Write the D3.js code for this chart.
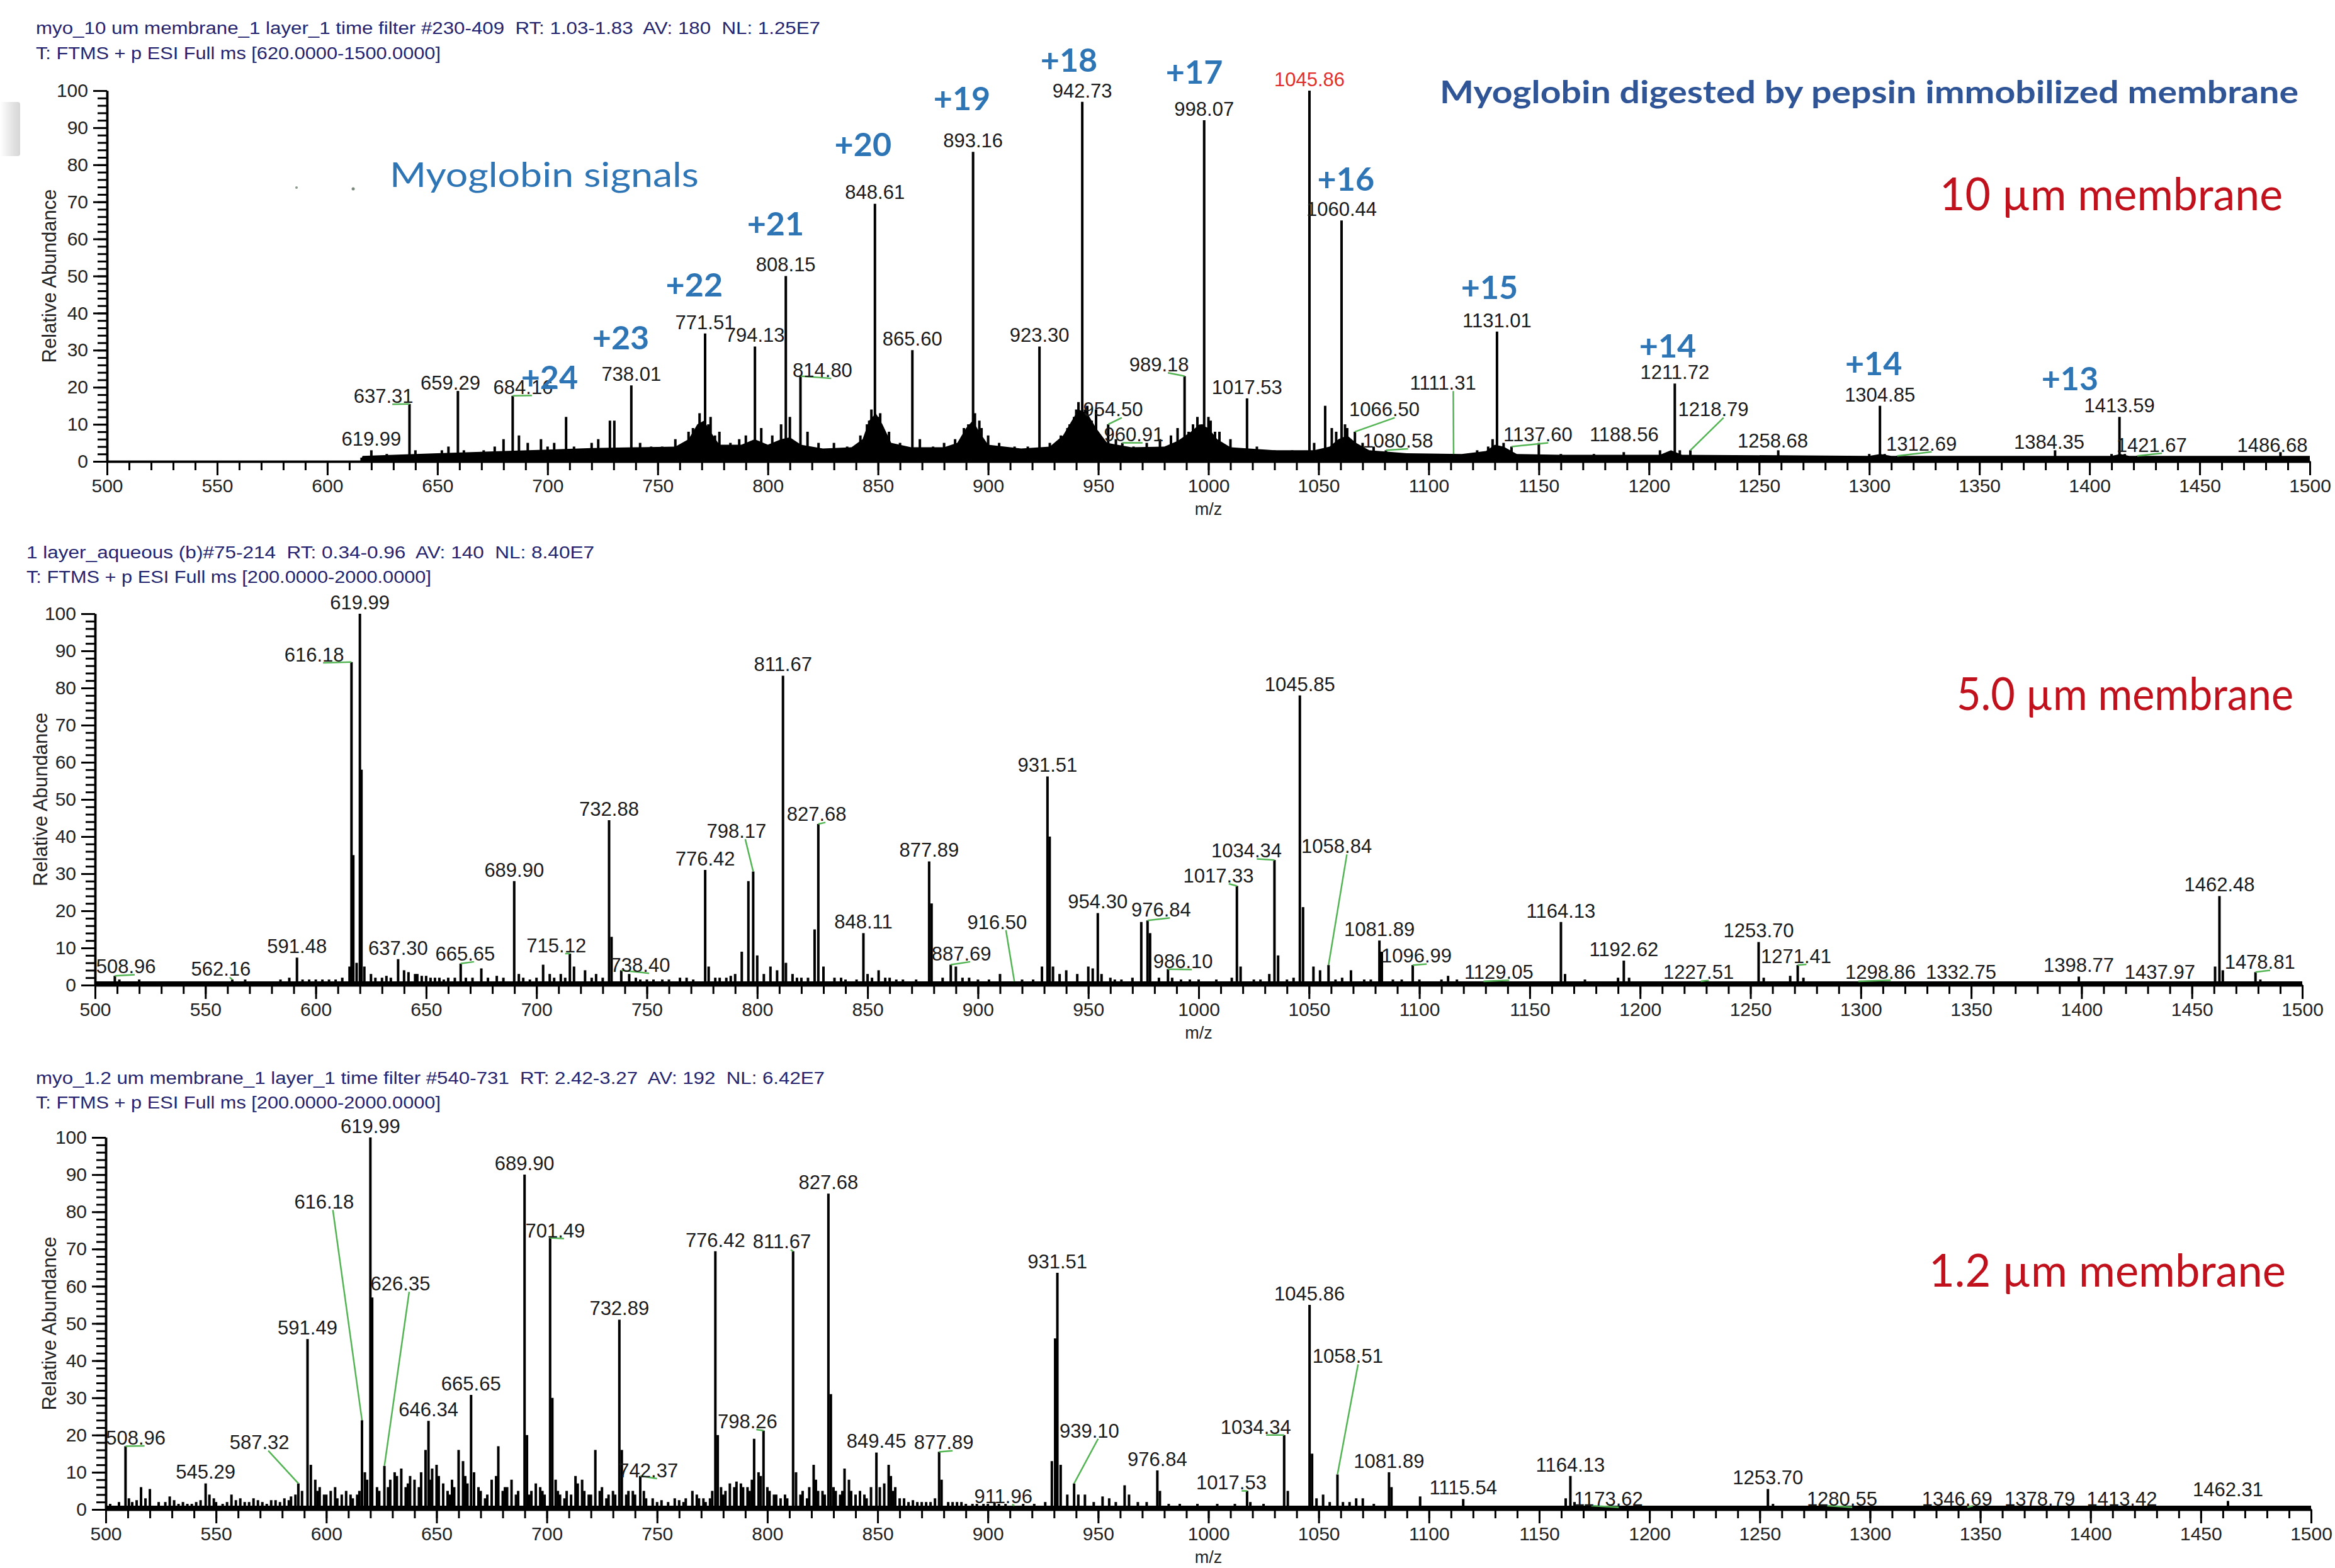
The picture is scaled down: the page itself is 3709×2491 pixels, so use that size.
<!DOCTYPE html>
<html><head><meta charset="utf-8">
<script src="https://cdn.jsdelivr.net/npm/d3@7"></script>
<style>body{margin:0;background:#fff}svg{display:block}</style>
</head><body>
<svg id="chart" width="3709" height="2491"></svg>
<script>
// ---------------- DATA ----------------
// Panel 1: 10 µm membrane  [m/z, relative abundance]
const peaks10 = [
[619.99,3],[622,1.5],[627,2],[637.31,15.5],[640,3],[646,2],[652,3],[655,4],[659.29,19],[662,3],[671,3],[676,4],[680,6],[684.16,17.7],[687,7],[691,5],[697,6],[700,4],[703,5],[708.4,12],[712,4],[720,5],[723,6],[728.3,11],[730.3,11],[738.01,20.5],[742,5],[747,4],[752,4],[758,6],[764,8],[766,9],[769,13],[771.51,34.5],[773,10],[774,12],[776,7],[778,8],[783,5],[787,6],[790,7],[794.13,31],[797,9],[802,7],[806,10],[808.15,50],[810,12],[814.80,23],[818,8],[823,5],[830,5],[836,4],[842,7],[845,10],[846,11],[847,14],[848.61,69.5],[850,12],[851,13],[855,8],[860,5],[865.60,30],[869,6],[875,4],[880,5],[885,6],[889,9],[891,10],[893.16,83.5],[894,13],[896,11],[897,9],[900,7],[905,5],[912,4],[918,4],[923.30,31],[928,5],[933,7],[936,9],[937,10],[939,12],[940,14],[941,16],[942.73,97],[944,14],[945,15],[947,11],[949,14],[954.50,10],[958,6],[960.91,5],[966,4],[972,5],[978,6],[983,7],[986,9],[989.18,23],[991,8],[993,10],[995,12],[997,10],[998.07,92],[1000,12],[1001,11],[1003,8],[1005,8],[1010,6],[1017.53,17],[1022,4],[1030,3],[1038,3],[1045.86,100],[1048,5],[1053,15],[1056,9],[1058,8],[1060.44,65],[1062,10],[1063,9],[1066.50,8],[1070,5],[1075,4],[1080.58,3],[1090,2],[1100,2],[1111.31,2],[1122,3],[1127,4],[1129,6],[1131.01,35],[1134,5],[1137.60,4],[1150,5],[1160,2],[1175,2],[1188.56,2.5],[1205,3],[1211.72,21],[1214,3],[1218.79,3],[1240,1.5],[1258.68,3],[1280,1],[1300,2],[1304.85,15],[1307,2],[1312.69,1.5],[1350,1],[1384.35,3],[1410,2],[1413.59,12],[1416,2],[1421.67,1.5],[1450,1],[1486.68,2.5]
];
// broad unresolved envelope under the 10 µm spectrum
const envelope10 = [
[615,0],[616,1.5],[630,1.8],[650,2.2],[680,2.8],[700,3.2],[720,3.6],[740,3.8],[758,4],[764,6],[768,10],[771,11],[774,8],[778,4.5],[788,4.5],[794,6],[800,4.5],[806,6],[810,6.5],[815,4.5],[825,3.5],[838,3.8],[843,6],[846,11],[849,13],[852,10],[856,5],[865,3.8],[880,3.8],[886,5],[890,9],[893,11],[896,8],[900,4.5],[915,3.5],[928,4],[934,7],[938,11],[941,14],[945,13],[949,9],[954,5],[965,3.8],[980,4],[986,5.5],[992,8],[996,10],[1000,9],[1004,6],[1010,3.8],[1030,3],[1048,3],[1055,4],[1059,6],[1063,7],[1067,5],[1073,3],[1090,2.2],[1115,2],[1126,2.8],[1130,4.5],[1134,4],[1140,2],[1160,1.8],[1205,1.8],[1210,3],[1215,1.8],[1300,1.5],[1305,2],[1310,1.5],[1410,1.5],[1414,2],[1418,1.5],[1500,1.5],[1500,0]
];
// labels: [peak m/z, label m/z, label abundance, leader?]
const labels10 = [
[619.99],[637.31,625.5,17.6],[659.29,655.9,21.2,false],[684.16,688.9,20.0],[738.01],[771.51],[794.13],[808.15],
[814.80,824.8,24.6],[848.61],[865.60],[893.16],[923.30],[942.73],[954.50,956.7,14.0],[960.91,966.1,7.2],
[989.18,977.6,26.1],[998.07],[1017.53],[1045.86],[1060.44],[1066.50,1079.9,14.0],[1080.58,1086,5.6],
[1111.31,1106.5,21.2],[1131.01],[1137.60,1149.6,7.2],[1188.56,1188.7,7.2,false],[1211.72],[1218.79,1229.2,14],
[1258.68,1256.2,5.6,false],[1304.85],[1312.69,1323.7,4.8],[1384.35,1381.7,5.2,false],[1413.59],
[1421.67,1428.2,4.4],[1486.68,1483,4.4,false]
];
const chargeStates = ["+24","+23","+22","+21","+20","+19","+18","+17","+16","+15","+14","+14","+13"];
const chargeMz =     [700.9,733.2,766.6,803.5,843.2,888.1,936.7,993.6,1062.4,1127.6,1208.5,1302.0,1391.1];
const chargeAb =     [22.7,33.4,47.7,64.2,85.6,98.0,108.3,105.1,76.2,46.9,31.2,26.5,22.4];

// Panel 2: 5.0 µm membrane
const peaks50 = [
[503,1],[508.96,2.5],[511,1.5],[515,1],[520,1.5],[525,1],[533,1],[538,1],[545,1],[552,1],[556,1],[562.16,1.5],[568,1.5],[575,1],[580,1],[584,1.5],[588,2],[591.48,7.4],[594,1.5],[597,1.5],[600,1.5],[603,1.5],[606,1.5],[609,1.5],[612,2],[615.3,5],[616.18,87],[617,35],[618.5,6],[619.99,100],[620.7,58],[622,5],[625,3],[627,2],[630,2],[632,2.5],[634,2],[637.30,7],[640,4],[642,3.5],[645,3],[646,3],[648,2.5],[650,2.5],[652,2],[654,2],[656,2],[658,1.5],[660,2],[663,2],[665.65,5.8],[668,2],[671,2],[675,4.5],[678,2],[682,2.5],[685,2],[689.90,28],[692,3],[694,2],[697,1.5],[700,2],[703,5.5],[706,3],[708,2],[711,3],[713,2],[715.12,8.5],[717,5],[722,4],[725,2],[727,3],[730,2],[732.88,44.4],[734,13],[738.40,4],[742,3],[745,2],[747,1.5],[750,1.5],[753,1.5],[757,1.5],[760,1.5],[765,2],[768,2],[771,1.5],[776.42,31],[778,5],[781,2],[783,2],[786,2],[788,2.5],[790,3],[793,9],[796,28],[798.17,30.6],[800,8],[803,3],[806,5],[809,4],[811.67,83.3],[813,6],[816,3],[818,2],[820,2],[823,2],[826,15],[827.68,43.4],[830,5],[835,2],[838,2],[840,1.5],[845,1.5],[848.11,14],[850,3],[852,2],[855,4],[858,2],[860,2],[863,1.5],[866,1.5],[872,1.5],[877.89,33.3],[879,22],[884,2],[887.69,5.5],[890,5],[893,2],[896,2],[900,1.5],[905,1.5],[910,3],[916.50,1],[920,1.5],[925,1.5],[929,5],[931.51,56.2],[932.5,40],[934,5],[937,3],[940,4],[945,3],[950,5],[952,4.5],[954.30,19.4],[956,3],[960,2],[962,1.5],[965,1.5],[970,2],[974,17],[976.84,17.4],[978,14],[982,2],[986.10,4.3],[988,2],[992,1.5],[996,1.5],[1000,1.5],[1004,1],[1008,1.5],[1012,1],[1015,2],[1017.33,26.7],[1019,5],[1025,1.5],[1028,1.5],[1032,3],[1034.34,33.7],[1036,8],[1040,1.5],[1043,2],[1045.85,78],[1047.3,21],[1052,5],[1055,4],[1058.84,5.4],[1062,1.5],[1065,2],[1069,4],[1075,1.5],[1078,1.5],[1081.89,12],[1083,9],[1088,1.5],[1092,1.5],[1096.99,5.4],[1100,1.5],[1106,1],[1110,1.5],[1113,2.5],[1117,1.5],[1122,1],[1129.05,1],[1140,1],[1150,1],[1164.13,17],[1166,3],[1175,1.5],[1190,2],[1192.62,6.6],[1195,2],[1210,1],[1227.51,1],[1240,1],[1253.70,11.6],[1256,2],[1268,2.5],[1271.41,5.4],[1274,2],[1285,1],[1298.86,1],[1315,1],[1332.75,1],[1360,1],[1398.77,2.3],[1420,1],[1437.97,1],[1455,1],[1460.5,5],[1462.48,24],[1464,4],[1470,1],[1478.81,3.5],[1481,1.5],[1490,1]
];
const labels50 = [
[508.96,514,5],[562.16,557,4.3],[591.48],[616.18,599.3,89],[619.99],[637.30],[665.65,667.7,8.5],[689.90],
[715.12,709,10.7],[732.88],[738.40,747,5.4],[776.42],[798.17,790.6,41.5],[811.67],[827.68,826.9,46],[848.11],
[877.89],[887.69,892.5,8.5],[916.50,908.7,17],[931.51],[954.30],[976.84,983,20.3],[986.10,992.9,6.4],
[1017.33,1009,29.5],[1034.34,1021.7,36.2],[1045.85],[1058.84,1062.5,37.4],[1081.89],[1096.99,1098.7,7.9],
[1129.05,1136,3.5],[1164.13],[1192.62],[1227.51,1226.5,3.5],[1253.70],[1271.41,1270.7,7.8],[1298.86,1308.9,3.5],
[1332.75,1345.4,3.5,false],[1398.77],[1437.97,1435.5,3.5,false],[1462.48],[1478.81,1480.8,6.2]
];

// Panel 3: 1.2 µm membrane
const peaks12 = [
[502,1.5],[505,1],[506,2],[508.96,17],[510.5,3],[512,2],[514,2.5],[516,6],[518,3],[520,5.5],[524,2],[527,2],[529,3.5],[531,2.5],[533,1.5],[535,2],[537,1.5],[539,1.5],[541,2],[543,2.5],[545.29,7],[547,4],[549,3],[550,2],[553,1.5],[555,2],[557,4],[559,2.5],[561,3],[563,2],[565,2],[567,3],[569,2.5],[571,2],[573,1.5],[575,2.5],[577,2.5],[579,2],[581,3],[583,2.5],[584,3.5],[586,4],[587.32,7],[589,5],[591.49,45.8],[593,12],[595,8],[596,5],[597,6],[599,4],[600,4],[602,5],[604,6],[605,3],[607,4],[609,5],[611,4],[612,3],[614,4],[615,5],[616.18,24],[617.5,10],[618.5,8],[619.99,100],[620.8,57],[623,6],[624,5],[626.35,11.7],[628,6],[629,8],[631,10],[632,9],[634,11],[636,6],[637,7],[638,9],[640,8],[642,6],[643,10],[645,16],[646.34,23.8],[647,8],[648,11],[650,12],[651,9],[653,7],[655,5],[656,4],[657,8],[658,6],[660,16],[662,13],[663,9],[664,7],[665.65,30.8],[667,10],[669,6],[670,5],[672,3],[673,4],[675,8],[677,9],[678,17],[680,5],[681,6],[682,6],[684,8],[686,4],[687,5],[689.90,90],[691,20],[692,4],[693,5],[695,7],[697,6],[698,5],[699,4],[701.49,73],[702.5,30],[704,8],[705,5],[706,4],[708,3],[709,5],[711,4],[713,9],[714,7],[716,8],[717,5],[719,4],[720,4],[722,16],[724,5],[725,6],[727,3],[728,4],[730,5],[731,4],[732.89,51],[734,16],[736,4],[737,5],[739,5],[740,4],[742.37,9],[744,5],[745,3],[748,3],[750,2],[752,2.5],[755,2],[758,3],[760,2.5],[762,2],[763,3],[766,5],[768,4],[769,3],[771,3],[772,2],[774,3],[775,5],[776.42,69.4],[777.5,20],[779,6],[780,4],[781,5],[783,7],[785,6],[786,7.5],[788,7],[789,6],[791,6],[792,5],[793,8],[794,19],[796,10],[797,9],[798.26,21.2],[800,6],[801,5],[803,4],[804,4],[806,3],[808,4],[809,3],[811.67,69.4],[813,10],[815,4],[816,5],[818,3],[819,6],[821,12],[822,8],[823,5],[825,5],[826,4],[827.68,84.9],[828.8,31],[830,6],[831,5],[833,4],[834,5],[835,11],[837,8],[838,5],[840,4],[842,5],[844,4],[845,3],[847,6],[849.45,15.3],[851,6],[853,7],[855,12],[856,9],[857,5],[858,6],[860,3],[862,3],[864,2],[866,2.5],[868,2],[870,2],[872,2],[874,2],[876,3],[877.89,15.5],[879,8],[882,2],[884,2],[886,2],[888,2],[890,1.5],[893,1.5],[895,1.5],[898,1.5],[900,1.5],[903,2],[905,1.5],[908,1.5],[911.96,1],[916,1.5],[921,1.5],[926,2],[929,13],[930.5,46],[931.51,63.6],[933,12],[936,4],[939.10,7],[941,4],[944,4],[948,2],[952,3.5],[955,3],[958,2],[962,6.5],[964,4],[968,2],[972,2],[976.84,10.5],[978,5],[982,1.5],[987,1.5],[995,1.5],[1004,1.5],[1012,1.5],[1017.53,5],[1019,2],[1025,1.5],[1030,1],[1034.34,20],[1036,5],[1040,1],[1045.86,55],[1047,15],[1049,3],[1052,4],[1055,2],[1058.51,9.4],[1061,2],[1064,2],[1067,3],[1070,3],[1075,1.5],[1081.89,10],[1083,6],[1087,1],[1096,3.5],[1100,1],[1108,1],[1115.54,2.8],[1125,1],[1140,1],[1150,1],[1162,3],[1164.13,9],[1166,2],[1173.62,1],[1185,1],[1200,1],[1220,1],[1240,1],[1253.70,5.5],[1256,1.5],[1262,1],[1280.55,1],[1300,1],[1320,1],[1346.69,1],[1378.79,1],[1400,1],[1413.42,1],[1440,1],[1462.31,2.3],[1480,1]
];
const labels12 = [
[508.96,513.6,19.3],[545.29],[587.32,569.7,18],[591.49],[616.18,599,82.7],[619.99],[626.35,633.6,60.7],[646.34],
[665.65],[689.90],[701.49,703.8,75],[732.89],[742.37,746,10.5],[776.42],[798.26,791,23.7],[811.67,806.6,72],
[827.68],[849.45],[877.89,880,18],[911.96,907,3.6],[931.51],[939.10,946,21.2],[976.84],[1017.53,1010.4,7.2],
[1034.34,1021.5,22.2],[1045.86],[1058.51,1063.2,41.2],[1081.89],[1115.54],[1164.13],[1173.62,1181.4,2.8],
[1253.70],[1280.55,1287.3,2.8],[1346.69,1339.5,2.8],[1378.79,1377,2.8,false],[1413.42,1414.2,2.8,false],[1462.31]
];

const xMajorTicks = d3.range(500, 1501, 50);
const xMinorTicks = d3.range(500, 1501, 10);
const yMajorTicks = d3.range(0, 101, 10);
const yMinorTicks = d3.range(0, 101, 2);

const headers = [
 ["myo_10 um membrane_1 layer_1 time filter #230-409  RT: 1.03-1.83  AV: 180  NL: 1.25E7", "T: FTMS + p ESI Full ms [620.0000-1500.0000]"],
 ["1 layer_aqueous (b)#75-214  RT: 0.34-0.96  AV: 140  NL: 8.40E7", "T: FTMS + p ESI Full ms [200.0000-2000.0000]"],
 ["myo_1.2 um membrane_1 layer_1 time filter #540-731  RT: 2.42-3.27  AV: 192  NL: 6.42E7", "T: FTMS + p ESI Full ms [200.0000-2000.0000]"]
];
const membraneNames = ["10 µm membrane", "5.0 µm membrane", "1.2 µm membrane"];

// ---------------- LAYOUT ----------------
const panels = [
 {peaks:peaks10, labels:labels10, env:envelope10, start:615, left:170, right:3669, top:144, bottom:733,
  hx:57, hy:[45,85], hw:[1246,643], ylx:78, name:{x:3081, y:334, w:545}},
 {peaks:peaks50, labels:labels50, env:null, start:500, left:151, right:3657, top:975, bottom:1565,
  hx:42, hy:[878,917], hw:[902,643], ylx:64, name:{x:3108, y:1128, w:535}},
 {peaks:peaks12, labels:labels12, env:null, start:500, left:168, right:3671, top:1807, bottom:2398,
  hx:57, hy:[1713,1752], hw:[1253,643], ylx:78, name:{x:3064, y:2044, w:567}}
];

const svg = d3.select('#chart');
svg.append('rect').attr('width',3709).attr('height',2491).attr('fill','#fff');

// faint left-edge shadow artifact
const defs = svg.append('defs');
const lg = defs.append('linearGradient').attr('id','shade').attr('x1','0').attr('x2','1');
lg.append('stop').attr('offset','0').attr('stop-color','#ffffff');
lg.append('stop').attr('offset','0.6').attr('stop-color','#e4e4e4');
lg.append('stop').attr('offset','1').attr('stop-color','#d6d6d6');
svg.append('rect').attr('x',0).attr('y',162).attr('width',32).attr('height',86).attr('rx',4).attr('fill','url(#shade)');

const LABEL_FS = 31;
const GREEN = '#52b452';
const NAVY = '#25256f';
const SANS = 'Liberation Sans, Arial, sans-serif';

panels.forEach((p, i) => {
  const x = d3.scaleLinear().domain([500,1500]).range([p.left, p.right]);
  const y = d3.scaleLinear().domain([0,100]).range([p.bottom, p.top]);
  const g = svg.append('g');

  // header
  headers[i].forEach((t, k) => {
    g.append('text').attr('x', p.hx).attr('y', p.hy[k]).attr('dy','0.35em')
      .attr('font-family',SANS).attr('font-size',27)
      .attr('fill', NAVY).style('white-space','pre')
      .attr('textLength', p.hw[k]).attr('lengthAdjust','spacingAndGlyphs').text(t);
  });

  // envelope
  if (p.env) {
    g.append('path').datum(p.env)
      .attr('d', d3.area().x(d=>x(d[0])).y0(y(0)).y1(d=>y(d[1])))
      .attr('fill','#000');
  }
  // baseline band
  g.append('rect').attr('x', x(p.start)).attr('y', y(0)-6).attr('width', x(1500)-x(p.start)).attr('height',6).attr('fill','#000');

  // peaks (stick spectrum)
  g.append('g').selectAll('line').data(p.peaks).join('line')
    .attr('x1', d=>x(d[0])).attr('x2', d=>x(d[0]))
    .attr('y1', y(0)).attr('y2', d=>y(d[1]))
    .attr('stroke','#000').attr('stroke-width',4);

  // axes
  const styleAxis = sel => {
    sel.selectAll('.domain').attr('stroke','#000').attr('stroke-width',3.5);
    sel.selectAll('.tick line').attr('stroke','#000').attr('stroke-width',3);
    sel.selectAll('.tick text').attr('font-family',SANS).attr('font-size',30).attr('fill','#222');
  };
  g.append('g').attr('transform',`translate(0,${p.bottom})`)
    .call(d3.axisBottom(x).tickValues(xMinorTicks).tickSize(14).tickSizeOuter(0).tickFormat(''))
    .call(styleAxis);
  g.append('g').attr('transform',`translate(0,${p.bottom})`)
    .call(d3.axisBottom(x).tickValues(xMajorTicks).tickSize(22).tickSizeOuter(0).tickPadding(6).tickFormat(d3.format('d')))
    .call(styleAxis);
  g.append('g').attr('transform',`translate(${p.left},0)`)
    .call(d3.axisLeft(y).tickValues(yMinorTicks).tickSize(15).tickSizeOuter(0).tickFormat(''))
    .call(styleAxis);
  g.append('g').attr('transform',`translate(${p.left},0)`)
    .call(d3.axisLeft(y).tickValues(yMajorTicks).tickSize(22).tickSizeOuter(0).tickPadding(8).tickFormat(d3.format('d')))
    .call(styleAxis);

  // axis titles
  g.append('text').attr('transform',`translate(${p.ylx},${(p.top+p.bottom)/2}) rotate(-90)`)
    .attr('text-anchor','middle').attr('dy','0.35em')
    .attr('font-family',SANS).attr('font-size',31).attr('fill','#222')
    .text('Relative Abundance');
  g.append('text').attr('x', x(1000)).attr('y', p.bottom+76).attr('dy','0.35em').attr('text-anchor','middle')
    .attr('font-family',SANS).attr('font-size',27).attr('fill','#222')
    .text('m/z');

  // peak labels
  const lg2 = g.append('g');
  p.labels.forEach(l => {
    const mz = l[0];
    const pk = p.peaks.find(d => Math.abs(d[0]-mz) < 0.005);
    const h = pk ? pk[1] : 1;
    const px = x(mz), py = y(h);
    const txt = mz.toFixed(2);
    let tx, ty;
    const displaced = l.length > 1;
    if (displaced) { tx = x(l[1]); ty = y(l[2]); } else { tx = px; ty = py - 18; }
    if (displaced && l[3] !== false) {
      const w = txt.length * 0.5 * LABEL_FS;
      const sx = tx + w*0.15;
      const sy = ty + LABEL_FS*0.42;
      lg2.append('line').attr('x1',sx).attr('y1',sy).attr('x2',px).attr('y2',py)
        .attr('stroke',GREEN).attr('stroke-width',2.5);
    }
    const red = (i === 0 && mz === 1045.86);
    lg2.append('text').attr('x',tx).attr('y',ty).attr('dy','0.35em').attr('text-anchor','middle')
      .attr('font-family',SANS).attr('font-size',LABEL_FS)
      .attr('fill', red ? '#e0302b' : '#1a1a1a').text(txt);
  });

  // membrane name
  g.append('text').attr('x', p.name.x).attr('y', p.name.y)
    .attr('font-family','Lato, "Open Sans", sans-serif').attr('font-size',72).attr('fill','#c0111c')
    .attr('textLength', p.name.w).attr('lengthAdjust','spacingAndGlyphs').text(membraneNames[i]);

  if (i === 0) {
    // charge state annotations
    chargeStates.forEach((c, k) => {
      g.append('text').attr('x', x(chargeMz[k])).attr('y', y(chargeAb[k])).attr('dy','0.36em')
        .attr('text-anchor','middle').attr('font-family','Lato, "Open Sans", sans-serif')
        .attr('font-weight',700).attr('font-size',52).attr('fill','#2e75b6').text(c);
    });
    g.append('text').attr('x', 619).attr('y', 297)
      .attr('font-family','Lato, "Open Sans", sans-serif').attr('font-size',54).attr('fill','#2e75b6')
      .attr('textLength', 491).attr('lengthAdjust','spacingAndGlyphs').text('Myoglobin signals');
    g.append('circle').attr('cx',471).attr('cy',298).attr('r',2).attr('fill','#8a9a8a');
    g.append('circle').attr('cx',561).attr('cy',300).attr('r',2.5).attr('fill','#7a8a7a');
    g.append('text').attr('x', 2287).attr('y', 164)
      .attr('font-family','Lato, "Open Sans", sans-serif').attr('font-weight',700).attr('font-size',50)
      .attr('fill','#2f5597').attr('textLength', 1364).attr('lengthAdjust','spacingAndGlyphs')
      .text('Myoglobin digested by pepsin immobilized membrane');
  }
});
</script>
</body></html>
